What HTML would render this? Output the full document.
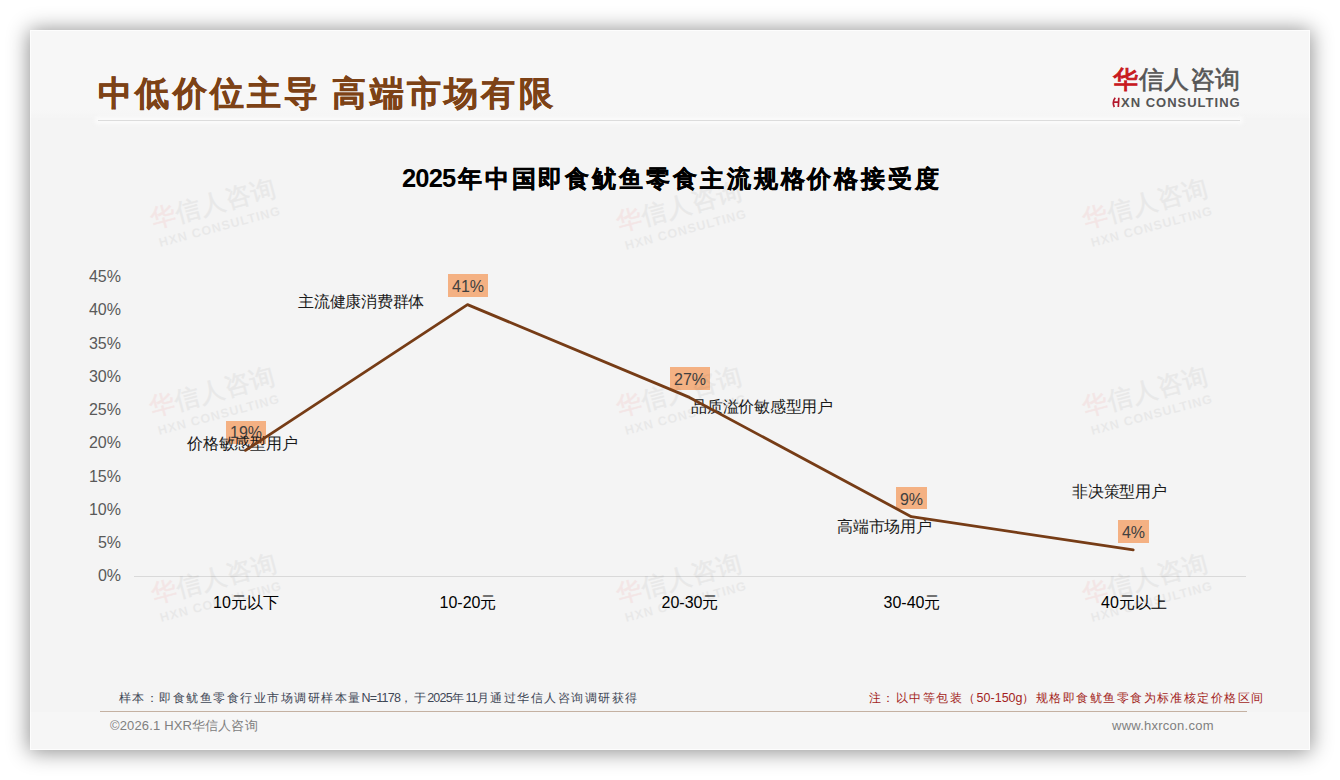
<!DOCTYPE html>
<html><head><meta charset="utf-8">
<style>
*{margin:0;padding:0;box-sizing:border-box}
html,body{width:1340px;height:780px;background:#fff;overflow:hidden;font-family:"Liberation Sans",sans-serif}
.card{position:absolute;left:30px;top:30px;width:1280px;height:720px;background:#f4f4f4;box-shadow:0 1px 20px 1px rgba(0,0,0,.45);overflow:hidden}
.bord{position:absolute;left:0;top:0;width:1280px;height:720px;border:1px solid rgba(255,255,255,.75)}
.hdr{position:absolute;left:0;top:0;width:1280px;height:88px;background:linear-gradient(#f7f7f7 0,#f7f7f7 80px,#f4f4f4 90px)}
.a{position:absolute;white-space:nowrap}
.title{left:68px;top:46px;font-size:34px;letter-spacing:3.3px;font-weight:bold;color:#7d4216;line-height:1;-webkit-text-stroke:0.4px #7d4216}
.hline{position:absolute;left:68px;top:90px;width:1142px;height:1px;background:#dcdcdc;box-shadow:0 0 4px 3px rgba(252,252,252,.9)}
.logo1{left:1083px;top:37px;font-size:25.2px;color:#555;line-height:1;letter-spacing:0.5px;-webkit-text-stroke:0.6px #555}
.logo1 b{color:#c81a1f;font-weight:normal;-webkit-text-stroke:1px #c81a1f}
.logo2{left:1091px;top:66px;font-size:13px;font-weight:bold;color:#555;line-height:1;letter-spacing:1px}
.logo2 i{color:#c81a1f;font-style:normal}
.ctitle{left:2px;width:1280px;text-align:center;top:136px;font-size:24px;letter-spacing:2.9px;font-weight:bold;color:#000;line-height:1;-webkit-text-stroke:0.35px #000}
.yl{width:60px;left:31px;text-align:right;font-size:16px;color:#595959;line-height:1}
.xl{width:200px;text-align:center;font-size:16px;color:#000;line-height:1;top:565px}
.lbl{background:#f4b183;color:#404040;font-size:16px;line-height:25px;height:22.5px;overflow:hidden;text-align:center}
.ann{font-size:16px;letter-spacing:-0.25px;color:#1a1a1a;line-height:1}
.l{font-size:12.5px;letter-spacing:-0.75px}
.foot1{left:89px;top:662px;font-size:12px;letter-spacing:1.47px;color:#3f4756;line-height:1}
.foot2{left:839px;top:662px;font-size:12px;letter-spacing:1.45px;color:#a31e22;line-height:1}
.fline{position:absolute;left:70px;top:681px;width:1147px;height:1px;background:#c4b1a2}
.ftr{position:absolute;left:0;top:682px;width:1280px;height:38px;background:#f6f6f6}
.copy{left:80px;top:689px;font-size:13px;letter-spacing:0.15px;color:#808080;line-height:1}
.www{left:1082px;top:689px;font-size:13px;letter-spacing:0.25px;color:#808080;line-height:1}
.wm{position:absolute;width:140px;height:50px;transform:rotate(-15deg);opacity:.055}
.wm .w1{position:absolute;left:4px;top:0;font-size:25px;letter-spacing:0.8px;color:#333;line-height:1;white-space:nowrap;-webkit-text-stroke:0.6px #333}
.wm .w1 b{color:#e00;font-weight:normal;-webkit-text-stroke:0.6px #e00}
.wm .w2{position:absolute;left:6px;top:31px;font-size:12.5px;font-weight:bold;color:#333;line-height:1;white-space:nowrap;letter-spacing:1.0px}
</style></head><body>
<div class="card">
<div class="hdr"></div>
<div class="a title">中低价位主导<span style="letter-spacing:1px"> </span>高端市场有限</div>
<div class="hline"></div>
<div class="a logo1"><b>华</b>信人咨询</div>
<svg class="a" style="left:1082px;top:66.5px" width="9" height="11"><path d="M2.3,10 C0.8,7 1.2,3.5 3.2,0.8 M6.8,0.8 L6.3,10 M2,5.2 L6.6,5" fill="none" stroke="#b3182c" stroke-width="1.7"/></svg><div class="a logo2">XN CONSULTING</div>
<div class="a ctitle"><span style="font-size:25.5px;letter-spacing:-0.9px;margin-right:2.5px;-webkit-text-stroke:0">2025</span>年中国即食鱿鱼零食主流规格价格接受度</div>

<div class="a yl" style="top:239px">45%</div>
<div class="a yl" style="top:272px">40%</div>
<div class="a yl" style="top:306px">35%</div>
<div class="a yl" style="top:339px">30%</div>
<div class="a yl" style="top:372px">25%</div>
<div class="a yl" style="top:405px">20%</div>
<div class="a yl" style="top:439px">15%</div>
<div class="a yl" style="top:472px">10%</div>
<div class="a yl" style="top:505px">5%</div>
<div class="a yl" style="top:538px">0%</div>

<svg class="a" style="left:0;top:0" width="1280" height="720">
<line x1="104" y1="546.5" x2="1216" y2="546.5" stroke="#d9d9d9" stroke-width="1"/>
</svg>

<div class="a lbl" style="left:196px;top:391px;width:40px;line-height:23.5px">19%</div>
<div class="a lbl" style="left:418px;top:244px;width:40px">41%</div>
<div class="a lbl" style="left:640px;top:337px;width:40px">27%</div>
<div class="a lbl" style="left:866px;top:456.5px;width:31px">9%</div>
<div class="a lbl" style="left:1088px;top:490px;width:31px">4%</div>

<div class="a ann" style="left:268px;top:264px">主流健康消费群体</div>
<div class="a ann" style="left:157px;top:406px">价格敏感型用户</div>
<div class="a ann" style="left:661px;top:369px">品质溢价敏感型用户</div>
<div class="a ann" style="left:807px;top:489px">高端市场用户</div>
<div class="a ann" style="left:1042px;top:454px">非决策型用户</div>

<svg class="a" style="left:0;top:0" width="1280" height="720">
<polyline points="215.5,420.4 437.5,274.6 659.5,367.4 881.3,486.7 1103.2,519.9" fill="none" stroke="#763c16" stroke-width="2.8" stroke-linejoin="round" stroke-linecap="round"/>
</svg>

<div class="a xl" style="left:116px">10元以下</div>
<div class="a xl" style="left:338px">10-20元</div>
<div class="a xl" style="left:560px">20-30元</div>
<div class="a xl" style="left:782px">30-40元</div>
<div class="a xl" style="left:1004px">40元以上</div>

<div class="ftr"></div>
<div class="a foot1">样本：即食鱿鱼零食行业市场调研样本量<span class="l">N=1178</span>，于<span class="l">2025</span>年<span class="l">11</span>月通过华信人咨询调研获得</div>
<div class="a foot2">注：以中等包装（<span class="l" style="letter-spacing:0">50-150g</span>）规格即食鱿鱼零食为标准核定价格区间</div>
<div class="fline"></div>
<div class="a copy">©2026.1 HXR华信人咨询</div>
<div class="a www">www.hxrcon.com</div>

<div class="wm" style="left:118px;top:160px"><div class="w1"><b>华</b>信人咨询</div><div class="w2">HXN CONSULTING</div></div>
<div class="wm" style="left:584px;top:163px"><div class="w1"><b>华</b>信人咨询</div><div class="w2">HXN CONSULTING</div></div>
<div class="wm" style="left:1050px;top:160px"><div class="w1"><b>华</b>信人咨询</div><div class="w2">HXN CONSULTING</div></div>
<div class="wm" style="left:117px;top:348px"><div class="w1"><b>华</b>信人咨询</div><div class="w2">HXN CONSULTING</div></div>
<div class="wm" style="left:584px;top:348px"><div class="w1"><b>华</b>信人咨询</div><div class="w2">HXN CONSULTING</div></div>
<div class="wm" style="left:1050px;top:348px"><div class="w1"><b>华</b>信人咨询</div><div class="w2">HXN CONSULTING</div></div>
<div class="wm" style="left:119px;top:535px"><div class="w1"><b>华</b>信人咨询</div><div class="w2">HXN CONSULTING</div></div>
<div class="wm" style="left:584px;top:535px"><div class="w1"><b>华</b>信人咨询</div><div class="w2">HXN CONSULTING</div></div>
<div class="wm" style="left:1050px;top:535px"><div class="w1"><b>华</b>信人咨询</div><div class="w2">HXN CONSULTING</div></div>
<div class="bord"></div>
</div>
</body></html>
